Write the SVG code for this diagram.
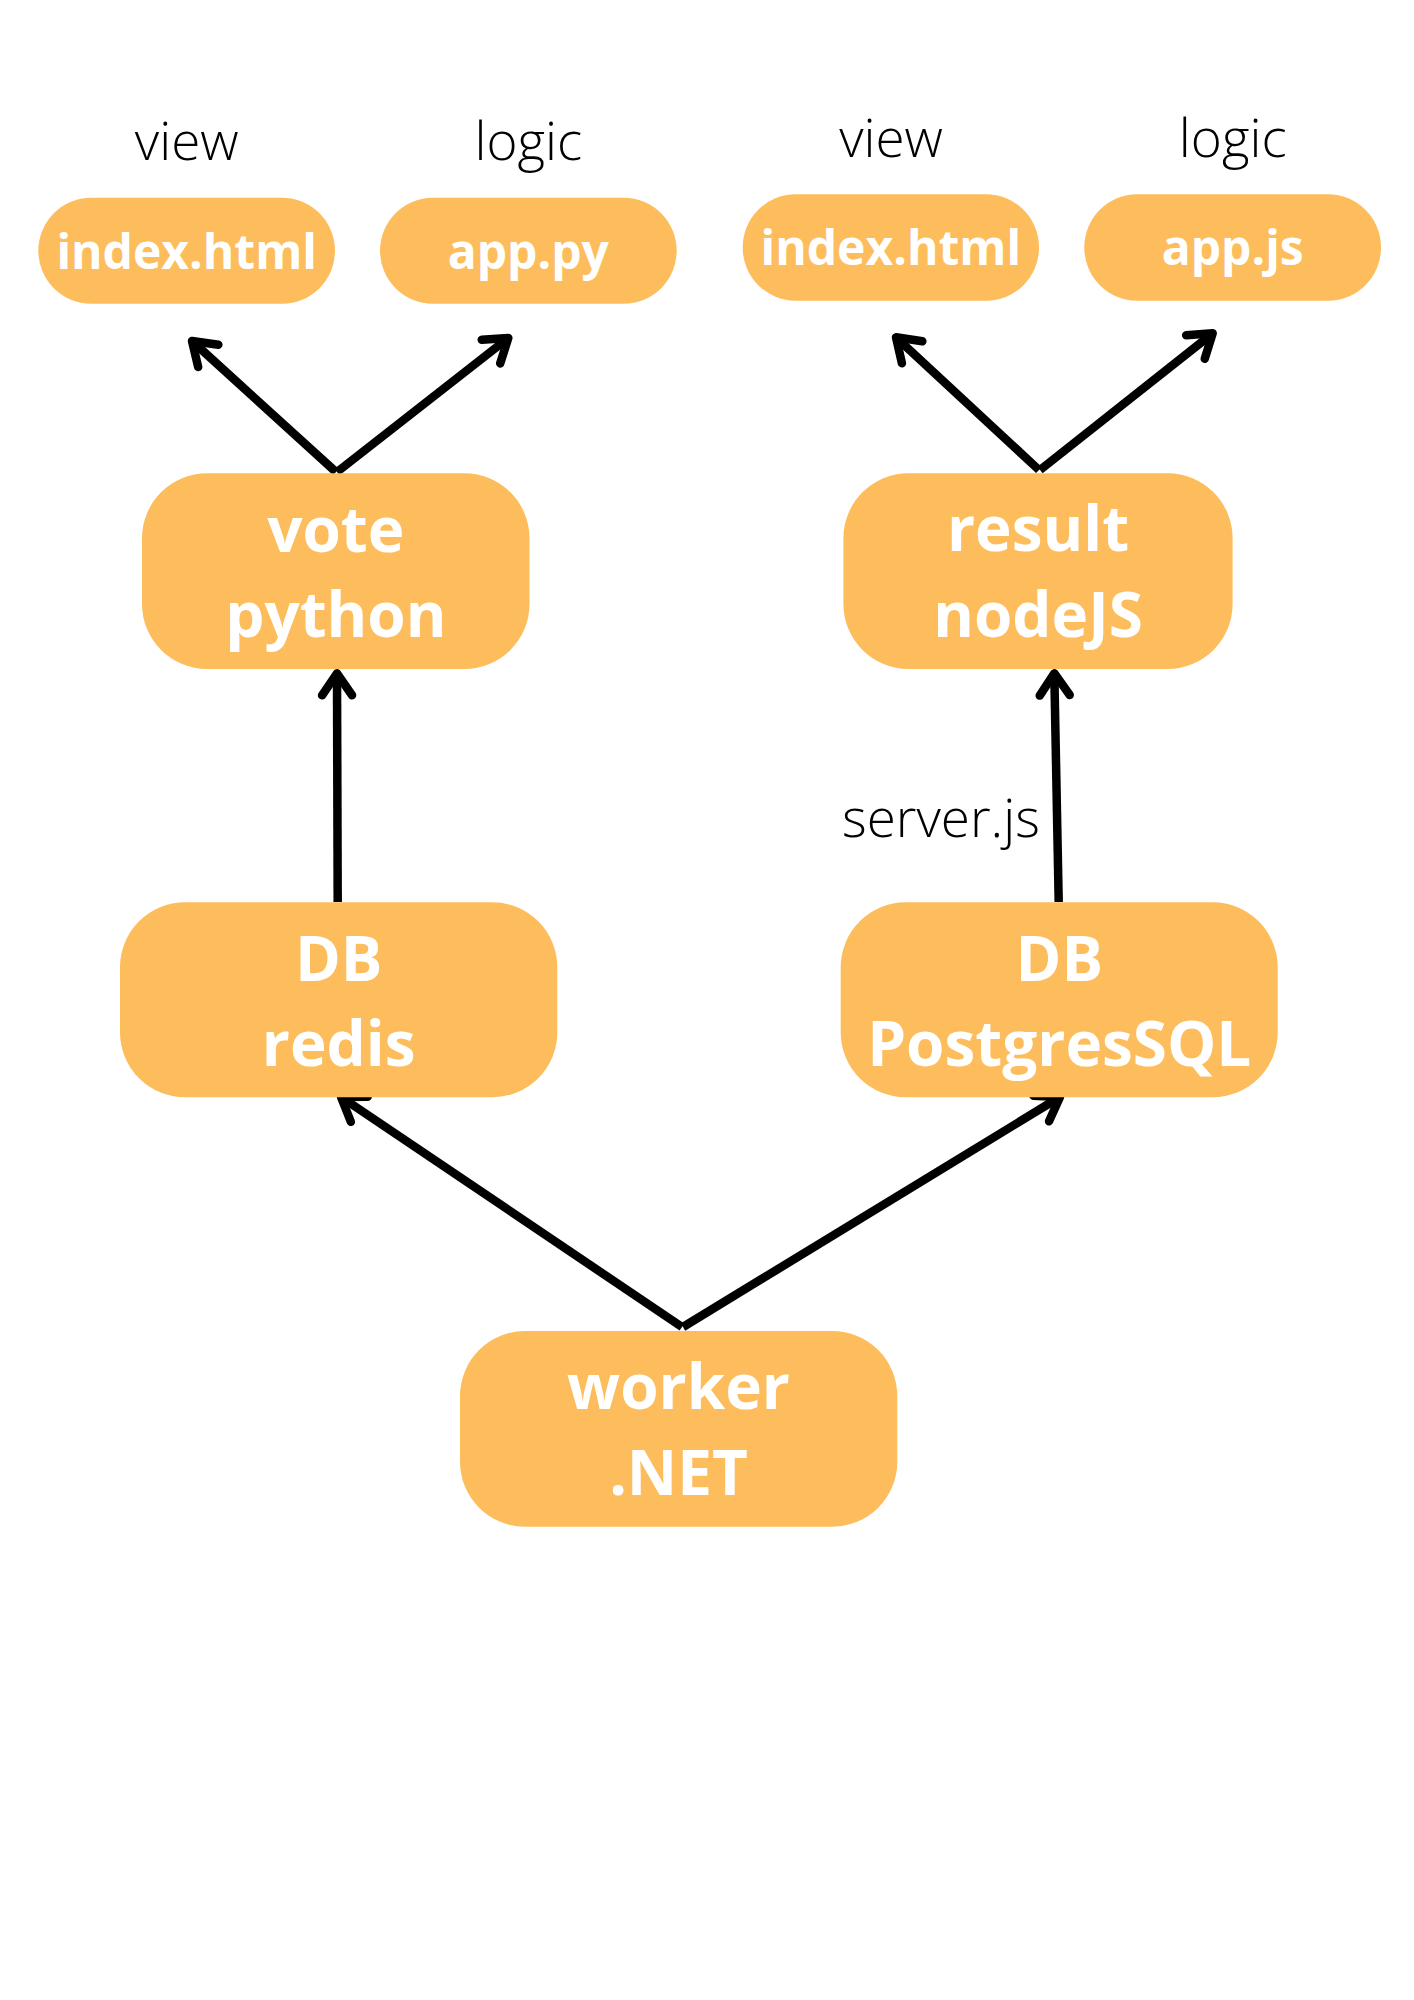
<svg xmlns="http://www.w3.org/2000/svg" width="1414" height="2000" viewBox="0 0 1414 2000">
<style>
.box{fill:#FDBD5C;}
.bt{font-family:"Open Sans","Liberation Sans",sans-serif;font-weight:700;fill:#FFFFFF;text-anchor:middle;}
.big{font-size:62px;}
.small{font-size:48px;}
.lbl{font-family:"Open Sans","Liberation Sans",sans-serif;font-weight:300;font-size:53px;fill:#000000;}
.mid{text-anchor:middle;}
.conn{fill:none;stroke:#000000;stroke-width:8.5;stroke-linecap:butt;marker-end:url(#arr);}
</style>
<defs>
<marker id="arr" markerUnits="userSpaceOnUse" orient="auto" viewBox="-30 -22 40 44" refX="0" refY="0" markerWidth="40" markerHeight="44" overflow="visible">
<path d="M-22,-15 L0,0 L-22,15" fill="none" stroke="#000000" stroke-width="8.5" stroke-linecap="round" stroke-linejoin="round"/>
</marker>
</defs>
<rect width="1414" height="2000" fill="#FFFFFF"/>

<g id="labels">
<text class="lbl mid" x="186.7" y="160">view</text>
<text class="lbl mid" x="528.3" y="160">logic</text>
<text class="lbl mid" x="891" y="156.7">view</text>
<text class="lbl mid" x="1232.7" y="156.7">logic</text>
<text class="lbl" x="842" y="836.7">server.js</text>
</g>

<g id="connectors">
<path class="conn" d="M336,472 L192,341"/>
<path class="conn" d="M337,472 L508.3,338"/>
<path class="conn" d="M1039,470 L896,337.3"/>
<path class="conn" d="M1040,470 L1212.7,333.3"/>
<path class="conn" d="M337.7,902 L337,673.3"/>
<path class="conn" d="M1058.7,902 L1054.3,673.3"/>
<path class="conn" d="M682,1327 L341,1097"/>
<path class="conn" d="M683,1327 L1060,1097"/>
</g>

<g id="node-index-html-left">
<rect class="box" x="38.3" y="197.7" width="296.7" height="106" rx="53"/>
<text class="bt small" x="186.7" y="269">index.html</text>
</g>
<g id="node-app-py">
<rect class="box" x="380" y="197.7" width="296.7" height="106" rx="53"/>
<text class="bt small" x="528.3" y="269.3">app.py</text>
</g>
<g id="node-index-html-right">
<rect class="box" x="742.7" y="194.3" width="296.3" height="106.4" rx="53"/>
<text class="bt small" x="890.8" y="265">index.html</text>
</g>
<g id="node-app-js">
<rect class="box" x="1084.3" y="194.3" width="296.7" height="106.4" rx="53"/>
<text class="bt small" x="1232.7" y="265">app.js</text>
</g>

<g id="node-vote">
<rect class="box" x="142" y="473.3" width="387.5" height="195.7" rx="65"/>
<text class="bt big" x="335.8" y="551.7">vote</text>
<text class="bt big" x="335.8" y="636.7">python</text>
</g>
<g id="node-result">
<rect class="box" x="843.4" y="473.3" width="389.2" height="195.7" rx="65"/>
<text class="bt big" x="1038" y="551">result</text>
<text class="bt big" x="1038" y="636.6">nodeJS</text>
</g>

<g id="node-redis">
<rect class="box" x="120" y="902.3" width="437.3" height="195" rx="65"/>
<text class="bt big" x="338.7" y="981">DB</text>
<text class="bt big" x="338.7" y="1066">redis</text>
</g>
<g id="node-postgres">
<rect class="box" x="840.7" y="902.3" width="437" height="195" rx="65"/>
<text class="bt big" x="1059.3" y="981">DB</text>
<text class="bt big" x="1059.3" y="1066">PostgresSQL</text>
</g>

<g id="node-worker">
<rect class="box" x="460" y="1331" width="437.3" height="195.7" rx="65"/>
<text class="bt big" x="678.5" y="1409.3">worker</text>
<text class="bt big" x="678.5" y="1495.3">.NET</text>
</g>
</svg>
